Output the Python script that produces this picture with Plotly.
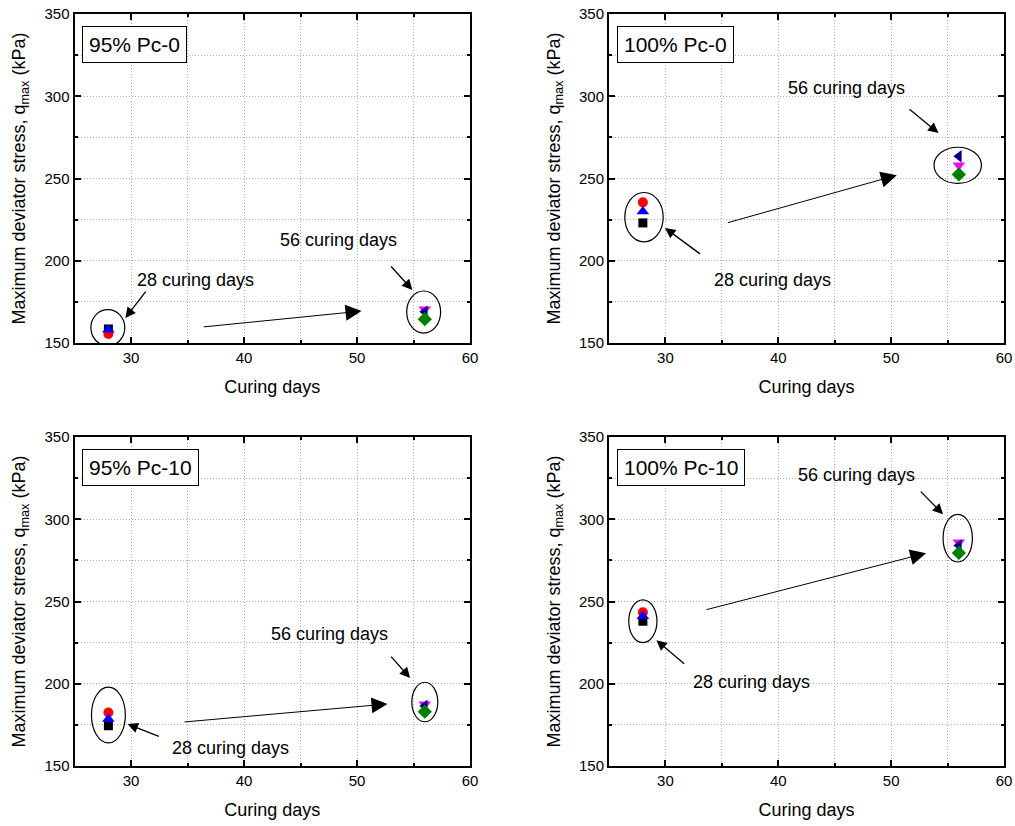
import plotly.graph_objects as go
from plotly.subplots import make_subplots

# ---------------- data ----------------
panel_titles = ["95% Pc-0", "100% Pc-0", "95% Pc-10", "100% Pc-10"]
day_28 = 28
day_56 = 56
square_28 = [158.5, 223.0, 174.5, 238.0]
circle_28 = [155.5, 235.5, 182.5, 243.5]
tri_up_28 = [158.0, 230.0, 178.5, 241.0]
tri_down_56 = [170.5, 258.0, 187.5, 286.0]
tri_left_56 = [169.0, 263.5, 186.5, 284.0]
diamond_56 = [164.5, 252.5, 183.0, 279.5]

x_ticks = [30, 40, 50, 60]
y_ticks = [150, 200, 250, 300, 350]

# annotation geometry (centre x, centre y, half-width, half-height)
ellipses_28 = [(27.95, 159.3, 1.5, 11.0), (28.1, 226.5, 1.7, 15.0),
               (28.0, 181.0, 1.5, 17.0), (28.0, 238.0, 1.25, 13.0)]
ellipses_56 = [(55.9, 168.8, 1.5, 12.8), (55.9, 258.0, 2.1, 11.0),
               (56.0, 188.9, 1.15, 12.0), (55.9, 288.5, 1.3, 14.5)]
# long arrows: tail x, tail y, head x, head y
long_arrows = [(36.3, 159.7, 50.4, 169.4), (35.4, 222.9, 50.5, 252.0),
               (34.6, 176.7, 52.7, 187.7), (33.5, 244.8, 53.1, 279.4)]
arrows_28 = [(31.4, 182.2, 29.5, 165.2), (33.2, 203.5, 29.96, 219.9),
             (32.6, 167.6, 29.7, 175.5), (31.8, 211.4, 29.2, 226.5)]
arrows_56 = [(52.9, 197.4, 54.9, 182.2), (51.5, 292.8, 54.2, 277.6),
             (52.9, 217.4, 54.7, 203.5), (52.5, 317.7, 54.6, 303.0)]
text_28 = [(35.7, 188.0), (39.5, 188.0), (38.8, 161.0), (37.6, 201.0)]
text_56 = [(48.4, 212.5), (46.0, 305.0), (47.6, 230.5), (46.9, 327.0)]

FONT = "Liberation Sans, Arial, sans-serif"
GRID_DASH = "1px,2px"

fig = make_subplots(rows=2, cols=2)

series = [
    ("square", "black", day_28, square_28, 9),
    ("circle", "red", day_28, circle_28, 10),
    ("triangle-up", "blue", day_28, tri_up_28, 11),
    ("triangle-down", "magenta", day_56, tri_down_56, 11),
    ("triangle-left", "#000080", day_56, tri_left_56, 11),
    ("diamond", "green", day_56, diamond_56, 11),
]

for i in range(4):
    r, c = i // 2 + 1, i % 2 + 1
    for sym, col, xd, vals, sz in series:
        fig.add_trace(go.Scatter(x=[xd], y=[vals[i]], mode="markers",
                                 marker=dict(symbol=sym, color=col, size=sz, line=dict(width=0)),
                                 showlegend=False), row=r, col=c)

# domains
xdom = [[74.5 / 1015, 470 / 1015], [609 / 1015, 1004 / 1015]]
ydom = [[1 - 343 / 826, 1 - 14 / 826], [1 - 766 / 826, 1 - 437 / 826]]

for i in range(4):
    r, c = i // 2, i % 2
    ax = "" if i == 0 else str(i + 1)
    fig.layout["xaxis" + ax].update(
        domain=xdom[c], range=[25, 60], tickvals=x_ticks, ticks="inside", ticklen=6,
        tickwidth=1.5, tickcolor="black", automargin=False,
        showline=True, linecolor="black", linewidth=2, mirror="allticks",
        showgrid=True, gridcolor="#a8a8a8", griddash=GRID_DASH, gridwidth=1,
        minor=dict(dtick=5, tick0=0, ticks="inside", ticklen=3, tickcolor="black",
                   showgrid=True, gridcolor="#a8a8a8", griddash=GRID_DASH, gridwidth=1),
        tickfont=dict(family=FONT, size=15, color="black"),
        title=dict(text="Curing days", font=dict(family=FONT, size=18, color="black"), standoff=15),
        zeroline=False,
    )
    fig.layout["yaxis" + ax].update(
        domain=ydom[r], range=[150, 350], tickvals=y_ticks, ticks="inside", ticklen=6,
        tickwidth=1.5, tickcolor="black", automargin=False,
        showline=True, linecolor="black", linewidth=2, mirror="allticks",
        showgrid=True, gridcolor="#a8a8a8", griddash=GRID_DASH, gridwidth=1,
        minor=dict(dtick=25, tick0=0, ticks="inside", ticklen=3, tickcolor="black",
                   showgrid=True, gridcolor="#a8a8a8", griddash=GRID_DASH, gridwidth=1),
        tickfont=dict(family=FONT, size=15, color="black"),
        title=dict(text="Maximum deviator stress, q<sub>max</sub> (kPa)",
                   font=dict(family=FONT, size=18, color="black"), standoff=14),
        zeroline=False,
    )

annotations = []
shapes = []
for i in range(4):
    ax = "" if i == 0 else str(i + 1)
    xr, yr = "x" + ax, "y" + ax
    for (cx, cy, rx, ry) in (ellipses_28[i], ellipses_56[i]):
        shapes.append(dict(type="circle", xref=xr, yref=yr, x0=cx - rx, x1=cx + rx,
                           y0=cy - ry, y1=cy + ry, line=dict(color="black", width=1.2)))
    tx, ty, hx, hy = long_arrows[i]
    annotations.append(dict(x=hx, y=hy, ax=tx, ay=ty, xref=xr, yref=yr, axref=xr, ayref=yr,
                            text="", showarrow=True, arrowhead=2, arrowsize=3.2, arrowwidth=1,
                            arrowcolor="black"))
    for arr in (arrows_28[i], arrows_56[i]):
        tx, ty, hx, hy = arr
        annotations.append(dict(x=hx, y=hy, ax=tx, ay=ty, xref=xr, yref=yr, axref=xr, ayref=yr,
                                text="", showarrow=True, arrowhead=2, arrowsize=1.6, arrowwidth=1.3,
                                arrowcolor="black"))
    for (lbl, pos) in (("28 curing days", text_28[i]), ("56 curing days", text_56[i])):
        annotations.append(dict(x=pos[0], y=pos[1], xref=xr, yref=yr, text=lbl, showarrow=False,
                                font=dict(family=FONT, size=18, color="black")))
    annotations.append(dict(x=0.02, y=0.963, xref=xr + " domain", yref=yr + " domain",
                            xanchor="left", yanchor="top", text=panel_titles[i], showarrow=False,
                            font=dict(family=FONT, size=21, color="black"),
                            bordercolor="black", borderwidth=1, borderpad=6, bgcolor="white"))

fig.update_layout(width=1015, height=826, margin=dict(l=0, r=0, t=0, b=0),
                  paper_bgcolor="white", plot_bgcolor="white",
                  annotations=annotations, shapes=shapes, showlegend=False)

fig.write_html("out.html")
